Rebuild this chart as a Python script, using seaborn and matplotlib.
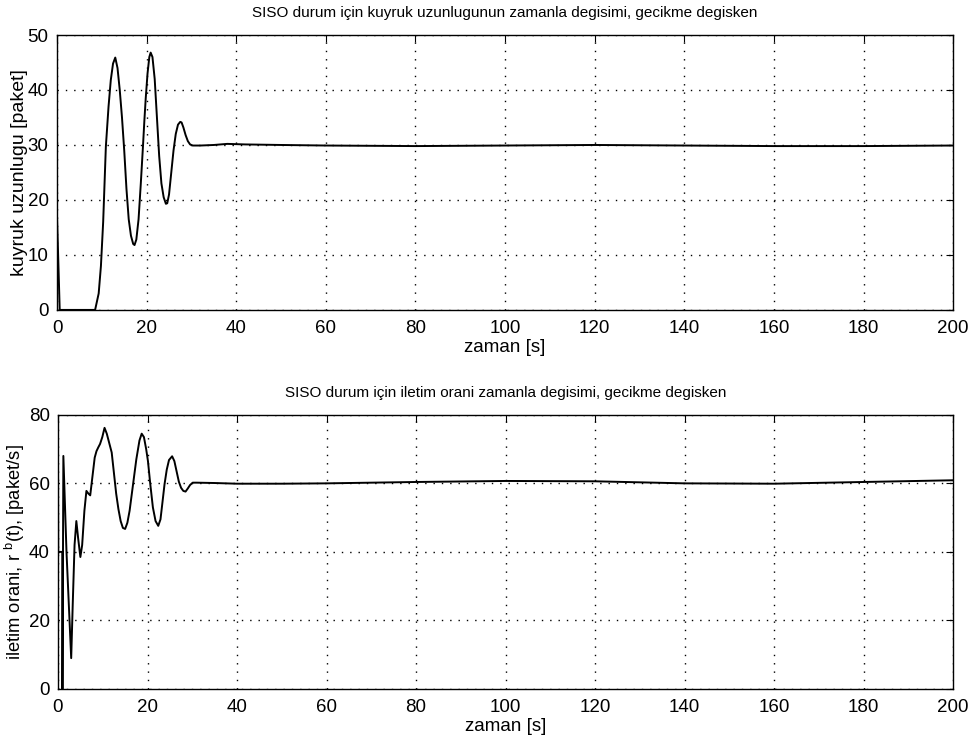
import numpy as np
import pandas as pd
import matplotlib
matplotlib.use("Agg")
import matplotlib.pyplot as plt
import seaborn as sns

# ---- data: queue length (top) ----
t_q = [0, 0.6, 8.5, 9.3, 9.8, 10.3, 10.9, 11.5, 12.0, 12.5, 13.0, 13.5, 14.0, 14.5,
       15.0, 15.5, 16.0, 16.5, 17.0, 17.3, 17.7, 18.2, 18.7, 19.2, 19.5, 19.8, 20.2,
       20.6, 20.9, 21.3, 21.8, 22.3, 22.8, 23.3, 23.8, 24.3, 24.6, 25.0, 25.5, 26.0,
       26.5, 27.0, 27.5, 27.8, 28.2, 28.7, 29.2, 29.7, 30.3, 32, 35, 38, 42, 50, 60,
       80, 100, 120, 140, 160, 180, 200]
q_len = [17, 0, 0, 3, 8, 16, 29.7, 37, 41.8, 44.8, 45.9, 44, 40, 35,
         29, 22, 16.5, 13.5, 12, 11.8, 12.8, 16.5, 23, 30, 34.5, 38.5, 43,
         46, 46.8, 46, 42, 35, 28, 23, 20.5, 19.3, 19.4, 21, 25, 29,
         32, 33.7, 34.2, 34.1, 33.2, 31.8, 30.7, 30.1, 29.9, 29.9, 30.0, 30.2, 30.1, 30.0, 29.9,
         29.8, 29.9, 30.0, 29.9, 29.8, 29.8, 29.9]

# ---- data: transmission rate (bottom) ----
t_r = [0, 0.05, 0.95, 1.0, 1.2, 1.9, 2.95, 3.3, 3.7, 4.1, 4.5, 5.0, 5.4, 5.9, 6.35,
       6.8, 7.2, 7.7, 8.2, 8.6, 9.0, 9.4, 9.9, 10.4, 10.9, 11.4, 12.0, 12.5, 13.0,
       13.5, 14.0, 14.5, 15.0, 15.5, 16.0, 16.8, 17.5, 18.2, 18.7, 19.2, 19.7, 20.1,
       20.6, 21.2, 21.8, 22.4, 22.9, 23.3, 23.8, 24.3, 24.8, 25.5, 26.0, 26.5, 27.0,
       27.5, 28.0, 28.5, 29.0, 29.5, 30.1, 31, 35, 40, 50, 60, 80, 100, 120, 140,
       160, 180, 200]
rate = [70, 40, 40, 0, 68, 40, 9, 25, 42, 49, 44, 38.5, 42, 52, 57.8,
        57, 56.5, 62, 67.5, 69.4, 70.5, 71.5, 73.5, 76.2, 74.5, 72, 69, 63, 57,
        52.5, 49, 47, 46.7, 48.5, 52, 60, 67, 72.5, 74.5, 73.5, 70, 66.5,
        60, 53, 49, 47.6, 49.5, 54, 59.7, 64, 66.8, 67.9, 66.5, 63.5, 60.5,
        58.7, 57.8, 57.6, 58.5, 59.5, 60.2, 60.2, 60.1, 59.9, 59.9, 60.0, 60.4, 60.7, 60.6, 60.0,
        59.9, 60.4, 60.9]

x_ticks = [0, 20, 40, 60, 80, 100, 120, 140, 160, 180, 200]
y_ticks_top = [0, 10, 20, 30, 40, 50]
y_ticks_bot = [0, 20, 40, 60, 80]

title_top = "SISO durum için kuyruk uzunlugunun zamanla degisimi, gecikme degisken"
title_bot = "SISO durum için iletim orani zamanla degisimi, gecikme degisken"
xlabel = "zaman [s]"
ylabel_top = "kuyruk uzunlugu [paket]"
ylabel_bot = "iletim orani, r $^{\\mathrm{b}}$(t), [paket/s]"

df_q = pd.DataFrame({"t": t_q, "v": q_len})
df_r = pd.DataFrame({"t": t_r, "v": rate})

sns.set_theme(style="white")
plt.rcParams["font.family"] = ["Liberation Sans", "DejaVu Sans"]
plt.rcParams["mathtext.fontset"] = "custom"
plt.rcParams["mathtext.rm"] = "Liberation Sans"

fig = plt.figure(figsize=(9.73, 7.45), dpi=100)
fig.patch.set_facecolor("white")
ax1 = fig.add_axes([0.0586, 0.584, 0.921, 0.369])
ax2 = fig.add_axes([0.0596, 0.0752, 0.920, 0.368])

def style(ax, df, yt, ylim, title, ylabel, ylsize, ylx):
    sns.lineplot(data=df, x="t", y="v", ax=ax, color="black", linewidth=1.4,
                 estimator=None, sort=False)
    ax.set_xlim(0, 200)
    ax.set_ylim(*ylim)
    ax.set_xticks(x_ticks)
    ax.set_yticks(yt)
    ax.set_xticklabels([str(v) for v in x_ticks])
    ax.set_yticklabels([str(v) for v in yt])
    ax.grid(True, color="black", linestyle=(0, (1, 5)), linewidth=1.0)
    ax.tick_params(direction="in", top=True, right=True, length=5, width=0.8,
                   labelsize=13.5, colors="black")
    ax.tick_params(axis="x", pad=7)
    ax.tick_params(axis="y", pad=6)
    for s in ax.spines.values():
        s.set_color("black")
        s.set_linewidth(1.0)
    ax.set_title(title, fontsize=11, color="black", pad=13)
    ax.set_xlabel(xlabel, fontsize=13.5, color="black", labelpad=2)
    ax.set_ylabel(ylabel, fontsize=ylsize, color="black")
    ax.yaxis.set_label_coords(ylx, 0.5)
    ax.set_facecolor("white")

style(ax1, df_q, y_ticks_top, (0, 50), title_top, ylabel_top, 14, -0.032)
style(ax2, df_r, y_ticks_bot, (0, 80), title_bot, ylabel_bot, 13.2, -0.035)

fig.savefig("out.png", dpi=100, facecolor="white")
